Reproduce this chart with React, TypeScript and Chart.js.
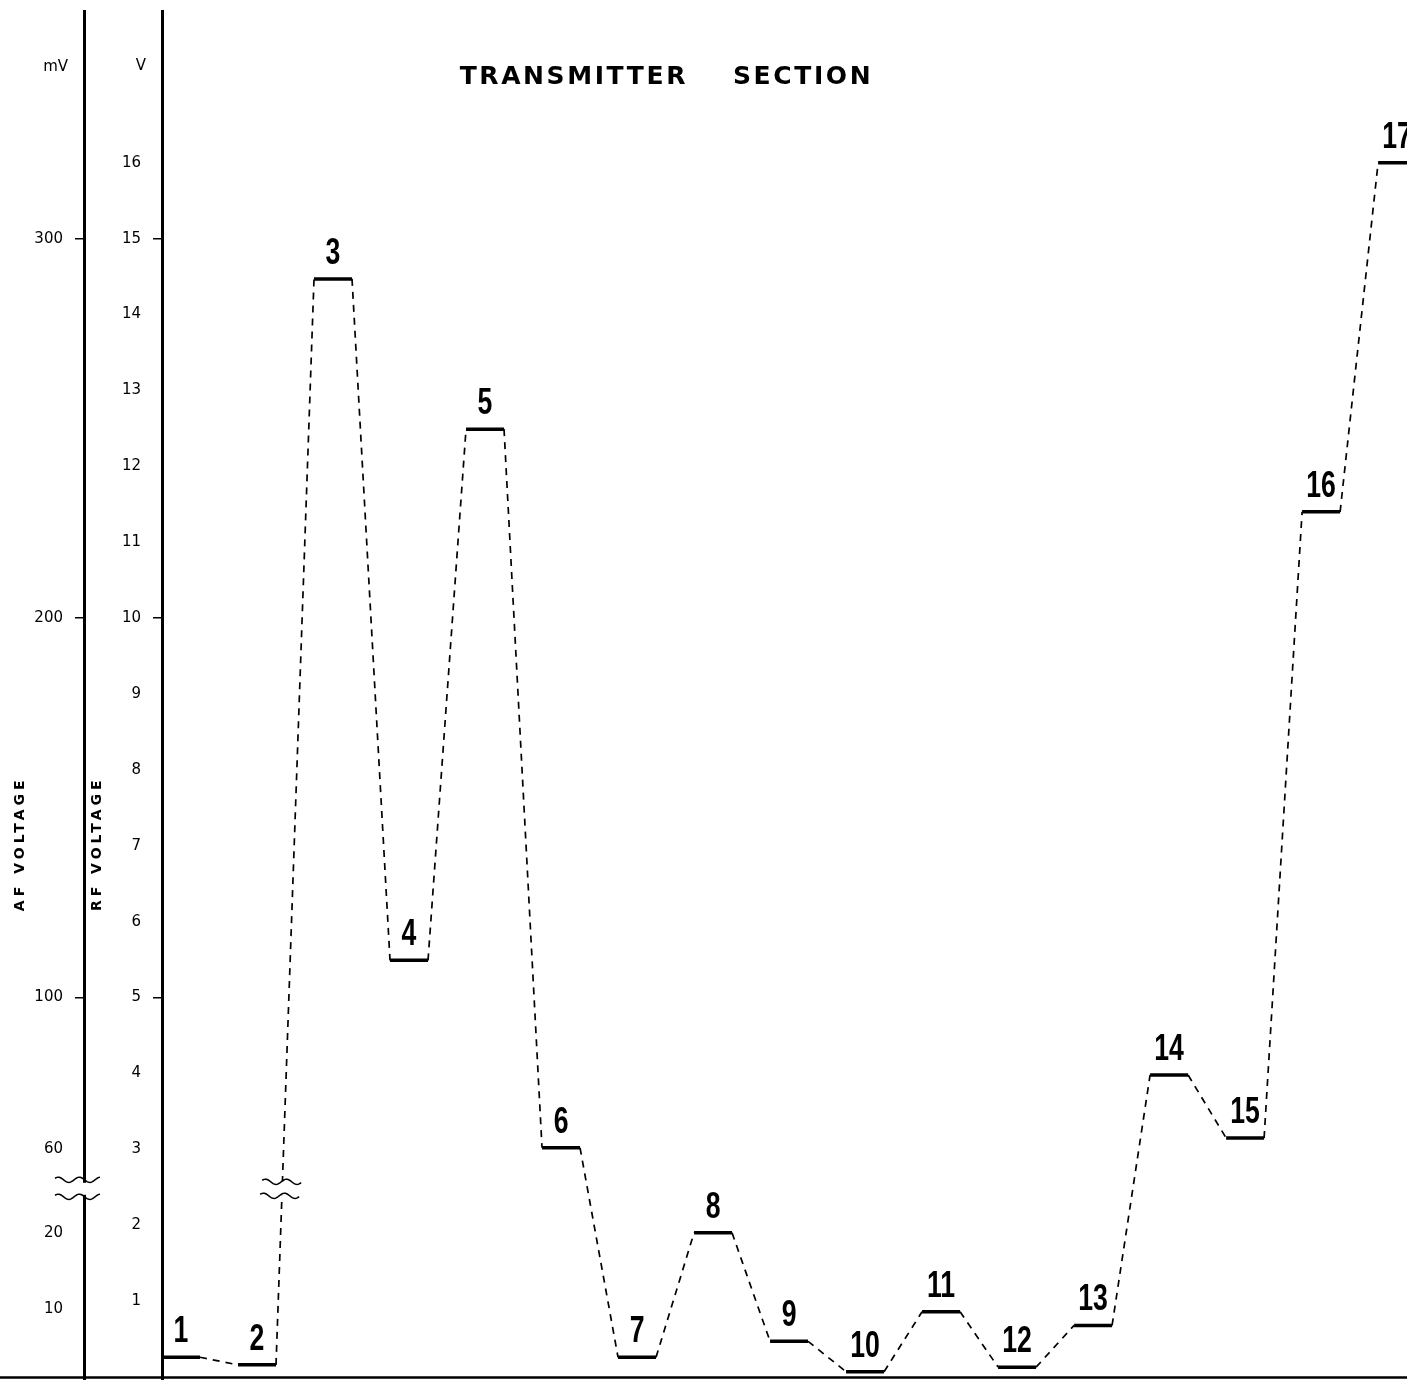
import React, { useEffect, useRef } from "react";
import { Chart, registerables } from "chart.js";

Chart.register(...registerables);

// ---------------- data ----------------
const stageLabels = ["1", "2", "3", "4", "5", "6", "7", "8", "9", "10", "11", "12", "13", "14", "15", "16", "17"];
// level of each stage, read on the RF voltage scale (V)
const stageLevels = [0.26, 0.16, 14.47, 5.49, 12.49, 3.02, 0.26, 1.9, 0.47, 0.07, 0.86, 0.13, 0.68, 3.98, 3.15, 11.4, 16.0];

const rfTickValues = [1, 2, 3, 4, 5, 6, 7, 8, 9, 10, 11, 12, 13, 14, 15, 16];
const rfTickLabels = ["1", "2", "3", "4", "5", "6", "7", "8", "9", "10", "11", "12", "13", "14", "15", "16"];
const afTickLabels = ["10", "20", "60", "100", "200", "300"];
const afTickPositions = [0.9, 1.9, 3, 5, 10, 15]; // where each AF label sits on the shared scale
const axisBreakLevel = 2.48;

const titleWords = ["TRANSMITTER", "SECTION"];
const afTitle = "AF VOLTAGE";
const rfTitle = "RF VOLTAGE";
const afUnit = "mV";
const rfUnit = "V";

const PLATEAU = 0.5;
const Y_MIN = 0;
const Y_MAX = 18;
const X_MAX = 16.38;

function wave(ctx: CanvasRenderingContext2D, x0: number, x1: number, cy: number) {
  const amp = 2.6;
  const period = 21;
  ctx.beginPath();
  for (let x = x0; x <= x1; x += 1) {
    const y = cy - amp * Math.sin(((x - x0) / period) * Math.PI * 2 + 0.6);
    if (x === x0) ctx.moveTo(x, y);
    else ctx.lineTo(x, y);
  }
  ctx.stroke();
}

const decorPlugin = {
  id: "decor",
  afterDraw(chart: any) {
    const ctx: CanvasRenderingContext2D = chart.ctx;
    const xs = chart.scales.x;
    const rf = chart.scales.rf;
    const af = chart.scales.af;
    const y0 = rf.getPixelForValue(0);
    ctx.save();
    ctx.strokeStyle = "#000";
    ctx.fillStyle = "#000";

    // baseline
    ctx.lineWidth = 2.5;
    ctx.beginPath();
    ctx.moveTo(0, y0 + 0.5);
    ctx.lineTo(chart.width, y0 + 0.5);
    ctx.stroke();

    // extend axis lines to bottom edge and top
    ctx.lineWidth = 3;
    [af.right, rf.right].forEach((x: number) => {
      ctx.beginPath();
      ctx.moveTo(Math.round(x) + 0.5, chart.chartArea.top - 1);
      ctx.lineTo(Math.round(x) + 0.5, chart.height);
      ctx.stroke();
    });

    // stage numbers (narrow, compressed figures)
    ctx.font = 'bold 37px "Liberation Sans", Arial, sans-serif';
    ctx.textAlign = "center";
    ctx.textBaseline = "alphabetic";
    stageLevels.forEach((lv, i) => {
      const px = xs.getPixelForValue(i + PLATEAU / 2);
      const py = rf.getPixelForValue(lv);
      ctx.save();
      ctx.translate(px, py - 15);
      ctx.scale(0.72, 1);
      ctx.fillText(stageLabels[i], 0, 0);
      ctx.restore();
    });

    // break on AF axis
    const by = rf.getPixelForValue(axisBreakLevel);
    ctx.fillStyle = "#fff";
    ctx.fillRect(af.right - 3, by - 6, 8, 12);
    ctx.fillStyle = "#000";
    ctx.lineWidth = 1.5;
    wave(ctx, af.right - 29, af.right + 16, by - 9);
    wave(ctx, af.right - 29, af.right + 16, by + 8);

    // break on connector 2 -> 3
    const xa = xs.getPixelForValue(1 + PLATEAU);
    const ya = rf.getPixelForValue(stageLevels[1]);
    const xb = xs.getPixelForValue(2);
    const yb = rf.getPixelForValue(stageLevels[2]);
    const bx = xa + ((ya - by) / (ya - yb)) * (xb - xa);
    ctx.fillStyle = "#fff";
    ctx.fillRect(bx - 6, by - 7, 12, 14);
    ctx.fillStyle = "#000";
    wave(ctx, bx - 20, bx + 19, by - 7);
    wave(ctx, bx - 22, bx + 17, by + 7);

    // title
    ctx.font = 'bold 25px "DejaVu Sans", sans-serif';
    (ctx as any).letterSpacing = "2.6px";
    ctx.textBaseline = "middle";
    ctx.textAlign = "right";
    ctx.fillText(titleWords[0], 688, 77);
    ctx.textAlign = "left";
    ctx.fillText(titleWords[1], 733, 77);

    // axis titles
    ctx.font = 'bold 14px "DejaVu Sans", sans-serif';
    (ctx as any).letterSpacing = "4px";
    ctx.textAlign = "center";
    const ty = rf.getPixelForValue(7);
    [[af.left + 20, afTitle], [rf.left + 13, rfTitle]].forEach(([x, t]: any) => {
      ctx.save();
      ctx.translate(x, ty);
      ctx.rotate(-Math.PI / 2);
      ctx.fillText(t, 2, 0);
      ctx.restore();
    });
    (ctx as any).letterSpacing = "0px";

    // units
    ctx.font = '15px "DejaVu Sans", sans-serif';
    ctx.textAlign = "right";
    ctx.fillText(afUnit, af.right - 16, 67);
    ctx.fillText(rfUnit, rf.right - 16, 66);

    ctx.restore();
  },
};

export default function App() {
  const ref = useRef<HTMLCanvasElement>(null);

  useEffect(() => {
    if (!ref.current) return;
    const points: { x: number; y: number }[] = [];
    stageLevels.forEach((lv, i) => {
      points.push({ x: i, y: lv });
      points.push({ x: i + PLATEAU, y: lv });
    });

    const tickFont = { family: '"DejaVu Sans", sans-serif', size: 15 };
    const tickGrid = {
      display: true,
      drawOnChartArea: false,
      drawTicks: true,
      tickLength: 9,
      lineWidth: 1.5,
      color: (c: any) => (c.tick && Math.abs(c.tick.value % 5) < 1e-6 ? "#000" : "rgba(0,0,0,0)"),
    };

    const chart = new Chart(ref.current, {
      type: "line",
      data: {
        datasets: [
          {
            data: points,
            yAxisID: "rf",
            xAxisID: "x",
            borderColor: "#000",
            borderWidth: 3.5,
            pointRadius: 0,
            tension: 0,
            fill: false,
            borderCapStyle: "butt",
            segment: {
              borderDash: (c: any) => (c.p0DataIndex % 2 === 1 ? [7, 6] : undefined),
              borderWidth: (c: any) => (c.p0DataIndex % 2 === 1 ? 1.7 : 3.5),
            },
          } as any,
        ],
      },
      options: {
        animation: false,
        responsive: false,
        devicePixelRatio: 1,
        layout: { padding: { top: 11, bottom: 3, left: 0, right: 0 } },
        plugins: { legend: { display: false }, tooltip: { enabled: false }, title: { display: false } },
        scales: {
          x: { type: "linear", min: 0, max: X_MAX, display: false },
          rf: {
            type: "linear",
            position: "left",
            weight: 0,
            min: Y_MIN,
            max: Y_MAX,
            border: { display: true, color: "#000", width: 3 },
            grid: tickGrid as any,
            ticks: {
              autoSkip: false,
              padding: 12,
              color: "#000",
              font: tickFont,
              callback: (_v: any, i: number) => rfTickLabels[i],
            },
            afterBuildTicks: (s: any) => {
              s.ticks = rfTickValues.map((v) => ({ value: v }));
            },
            afterFit: (s: any) => {
              s.width = 78;
              s.paddingTop = 0;
              s.paddingBottom = 0;
            },
          } as any,
          af: {
            type: "linear",
            position: "left",
            weight: 1,
            min: Y_MIN,
            max: Y_MAX,
            border: { display: true, color: "#000", width: 3 },
            grid: tickGrid as any,
            ticks: {
              autoSkip: false,
              padding: 12,
              color: "#000",
              font: tickFont,
              callback: (_v: any, i: number) => afTickLabels[i],
            },
            afterBuildTicks: (s: any) => {
              s.ticks = afTickPositions.map((v) => ({ value: v }));
            },
            afterFit: (s: any) => {
              s.width = 84;
              s.paddingTop = 0;
              s.paddingBottom = 0;
            },
          } as any,
        },
      },
      plugins: [decorPlugin],
    });
    return () => chart.destroy();
  }, []);

  return (
    <div style={{ position: "absolute", left: 0, top: 0, width: 1407, height: 1380, background: "#fff" }}>
      <canvas ref={ref} width={1407} height={1380} style={{ display: "block", width: 1407, height: 1380 }} />
    </div>
  );
}
